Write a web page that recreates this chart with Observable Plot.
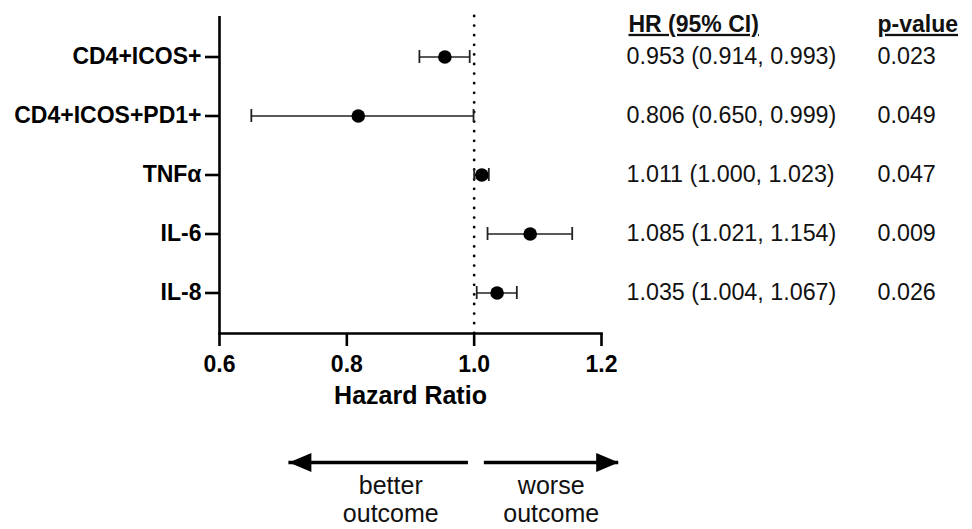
<!DOCTYPE html>
<html>
<head>
<meta charset="utf-8">
<script src="https://cdn.jsdelivr.net/npm/d3@7"></script>
<script src="https://cdn.jsdelivr.net/npm/@observablehq/plot@0.6"></script>
<style>
  html, body { margin: 0; padding: 0; background: #fff; }
  #chart svg { display: block; }
</style>
</head>
<body>
<div id="chart"></div>
<script>
// ---- data ----
const names = ["CD4+ICOS+", "CD4+ICOS+PD1+", "TNFα", "IL-6", "IL-8"];
const hr = [0.954, 0.818, 1.012, 1.088, 1.036];
const lo = [0.914, 0.650, 1.000, 1.021, 1.004];
const hi = [0.993, 0.999, 1.023, 1.154, 1.067];
const hrText = ["0.953 (0.914, 0.993)", "0.806 (0.650, 0.999)", "1.011 (1.000, 1.023)", "1.085 (1.021, 1.154)", "1.035 (1.004, 1.067)"];
const pText = ["0.023", "0.049", "0.047", "0.009", "0.026"];
const xTicks = [0.6, 0.8, 1.0, 1.2];
const xDomain = [0.6, 1.2];
const refLine = [1.0];
const axisTitle = "Hazard Ratio";
const headers = ["HR (95% CI)", "p-value"];

const arrowTail = [0.991, 1.016];
const arrowTip = [0.709, 1.227];
const arrowRotate = [180, 0];
const arrowLabelX = [0.869, 1.121];
const arrowLabels = ["better\noutcome", "worse\noutcome"];

// ---- tables built from the arrays ----
const rows = names.map((name, i) => ({name, hr: hr[i], lo: lo[i], hi: hi[i], hrText: hrText[i], p: pText[i]}));
const arrows = arrowTail.map((t, i) => ({tail: t, tip: arrowTip[i], rot: arrowRotate[i], lx: arrowLabelX[i], label: arrowLabels[i]}));

const font = "'Liberation Sans', Arial, Helvetica, sans-serif";
const W = 972;
const mL = 219, mR = 371;

const arrowHead = {
  draw(context) {
    context.moveTo(0, 0);
    context.lineTo(-22.5, -9.5);
    context.lineTo(-22.5, 9.5);
    context.closePath();
  }
};

const main = Plot.plot({
  width: W,
  height: 425,
  marginLeft: mL,
  marginRight: mR,
  marginTop: 16,
  marginBottom: 92,
  style: {fontFamily: font, color: "#000", background: "#fff", overflow: "visible"},
  x: {domain: xDomain},
  y: {type: "band", domain: names, paddingInner: 0.78, paddingOuter: 0.565},
  marks: [
    Plot.ruleX(refLine, {stroke: "#000", strokeWidth: 2.8, strokeDasharray: "0 9.6", strokeLinecap: "round"}),
    Plot.ruleX([xDomain[0]], {stroke: "#000", strokeWidth: 2.6}),
    Plot.frame({anchor: "bottom", stroke: "#000", strokeWidth: 2.6}),
    Plot.axisY({tickSize: 14, tickPadding: 4, fontSize: 23, fontWeight: "bold", strokeWidth: 2.6, label: null}),
    Plot.axisX({ticks: xTicks, tickFormat: ".1f", tickSize: 13, tickPadding: 9, fontSize: 23, fontWeight: "bold", strokeWidth: 2.6, label: null}),
    Plot.ruleY(rows, {y: "name", x1: "lo", x2: "hi", stroke: "#222", strokeWidth: 1.6}),
    Plot.tickX(rows, {y: "name", x: "lo", stroke: "#222", strokeWidth: 1.8}),
    Plot.tickX(rows, {y: "name", x: "hi", stroke: "#222", strokeWidth: 1.8}),
    Plot.dot(rows, {y: "name", x: "hr", r: 6.8, fill: "#000", stroke: "none"}),
    Plot.text([axisTitle], {frameAnchor: "bottom", dy: 70, fontSize: 25, fontWeight: "bold", fill: "#000"}),
    Plot.text(rows, {y: "name", text: "hrText", frameAnchor: "right", dx: 25, textAnchor: "start", fontSize: 23.3, fill: "#111"}),
    Plot.text(rows, {y: "name", text: "p", frameAnchor: "right", dx: 276, textAnchor: "start", fontSize: 23.3, fill: "#111"}),
    Plot.text([headers[0]], {frameAnchor: "top-right", dx: 27, dy: -1, textAnchor: "start", fontSize: 23, fontWeight: "bold", fill: "#111"}),
    Plot.text([headers[1]], {frameAnchor: "top-right", dx: 276, dy: -1, textAnchor: "start", fontSize: 23, fontWeight: "bold", fill: "#111"})
  ]
});

const bottom = Plot.plot({
  width: W,
  height: 104,
  marginLeft: mL,
  marginRight: mR,
  marginTop: 0,
  marginBottom: 30,
  style: {fontFamily: font, color: "#000", background: "#fff", overflow: "visible"},
  x: {domain: xDomain, axis: null},
  marks: [
    Plot.ruleY(arrows, {y: null, x1: "tail", x2: "tip", stroke: "#000", strokeWidth: 3.5}),
    Plot.dot(arrows, {x: "tip", rotate: "rot", symbol: arrowHead, fill: "#000", stroke: "none"}),
    Plot.text(arrows, {x: "lx", text: "label", dy: 37, lineAnchor: "middle", lineHeight: 1.12, fontSize: 25, fill: "#111"})
  ]
});

const root = document.getElementById("chart");
root.appendChild(main);
root.appendChild(bottom);

// underline the table headers
d3.select(main).selectAll("text").filter(function() { return headers.includes(this.textContent); })
  .style("text-decoration", "underline");
</script>
</body>
</html>
